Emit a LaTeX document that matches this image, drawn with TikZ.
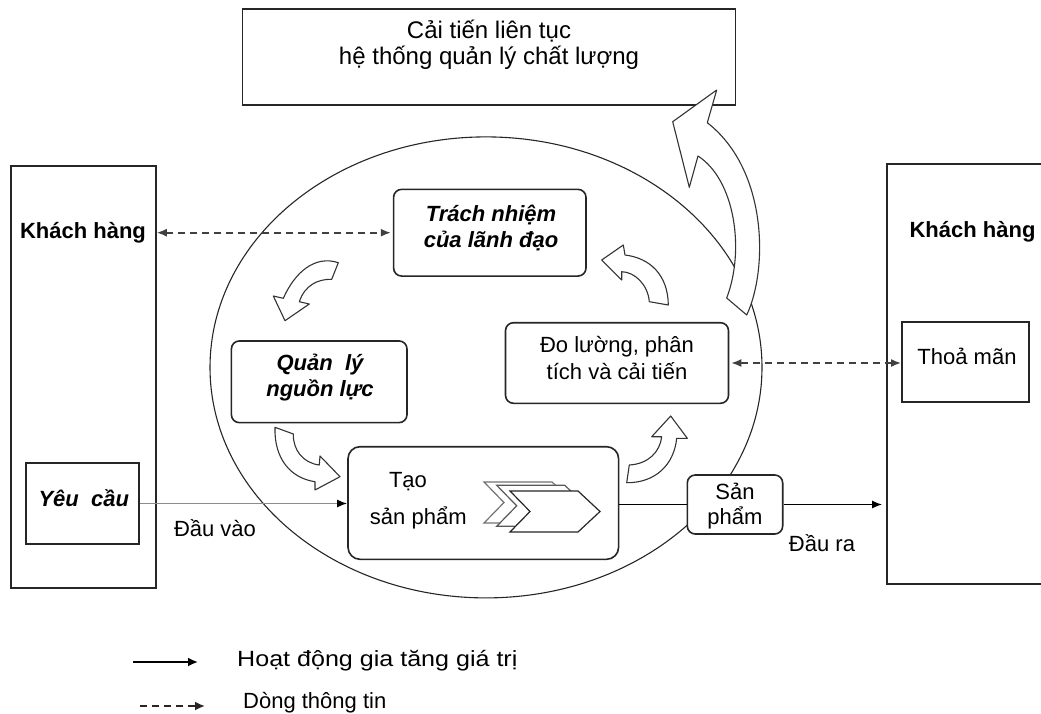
\documentclass[tikz,border=0pt]{standalone}
\usepackage{graphicx}
\usepackage{fontspec}
\setmainfont{Liberation Sans}
\usetikzlibrary{shapes.geometric,arrows.meta,calc}
\begin{document}
\begin{tikzpicture}[x=1pt,y=-1pt,
  box/.style={draw=black!85, line width=1.6pt, fill=white, inner sep=0pt},
  rbox/.style={box, rounded corners=8pt},
  txt/.style={inner sep=0pt, align=center, font=\fontsize{22}{26}\selectfont},
  btxt/.style={inner sep=0pt, align=center, font=\fontsize{22}{26}\selectfont\bfseries},
  bitxt/.style={inner sep=0pt, align=center, font=\fontsize{22}{26}\selectfont\bfseries\itshape},
  blockarrow/.style={draw=black!80, line width=1.1pt, fill=white, line join=round},
  chev/.style={fill=white, line width=1.2pt, line join=miter},
  flow/.style={line width=1.6pt, -{Latex[length=10pt,width=8pt]}},
  info/.style={draw=black!75, line width=1.6pt, dash pattern=on 7pt off 5pt, {Latex[length=10pt,width=8pt]}-{Latex[length=10pt,width=8pt]}},
]
\useasboundingbox (0,0) rectangle (1041,714);

% top box
\node[box, minimum width=493, minimum height=96] (top) at (489,57.3) {};
\node[txt, font=\fontsize{24}{26}\selectfont] (toptxt) at (489,45) {Cải tiến liên tục\\hệ thống quản lý chất lượng};

% ellipse
\node[ellipse, draw=black!85, line width=1.1pt, minimum width=552, minimum height=461, inner sep=0pt] (ell) at (486,367.4) {};

% big curved arrow
\draw[blockarrow] (746.7,315) -- (726.7,298) .. controls (745,250) and (735,180) .. (698,156) -- (689.3,187.3) -- (672.7,121.7) -- (716.7,90) -- (707.3,122.7) .. controls (768,170) and (768,270) .. (746.7,315) -- cycle;

% left customer
\node[box, minimum width=145, minimum height=422] (kl) at (83.5,377) {};
\node[btxt] (kltxt) at (83,233) {Khách hàng};
\node[box, minimum width=113, minimum height=81] (yc) at (82.5,503.5) {};
\node[bitxt] (yctxt) at (83.8,498.3) {Yêu\ \ cầu};

% right customer
\node[box, minimum width=170, minimum height=420] (kr) at (972,374) {};
\node[btxt] (krtxt) at (972.5,232) {Khách hàng};
\node[box, minimum width=127, minimum height=80] (tm) at (965.3,362) {};
\node[txt] (tmtxt) at (967,356) {Thoả mãn};

% process boxes
\node[rbox, minimum width=192.4, minimum height=86.7] (tn) at (489.8,232.7) {};
\node[bitxt] (tntxt) at (491,228) {Trách nhiệm\\của lãnh đạo};
\node[rbox, minimum width=175.6, minimum height=81.7] (ql) at (319.2,381.8) {};
\node[bitxt] (qltxt) at (320,378) {Quản\ \ lý\\nguồn lực};
\node[rbox, minimum width=223, minimum height=80.6] (do) at (617,363) {};
\node[txt, font=\fontsize{22}{27}\selectfont] (dotxt) at (617,358.5) {Đo lường, phân\\tích và cải tiến};
\node[rbox, rounded corners=12pt, minimum width=270.6, minimum height=112.6] (tao) at (483.3,503) {};
\node[txt] (taotxt1) at (408,482) {Tạo};
\node[txt] (taotxt2) at (418.3,518) {sản phẩm};
\node[rbox, minimum width=95.4, minimum height=59] (sp) at (735,504.5) {};
\node[txt, font=\fontsize{22}{25}\selectfont] (sptxt) at (735,505.8) {Sản\\phẩm};

% chevrons
\foreach \dx/\dy/\col in {-26/-9/black!55, -13.3/-5.7/black!65, 0/0/black!85}{
  \draw[chev, draw=\col, shift={(\dx,\dy)}] (510,491) -- (578,491) -- (600,511.5) -- (578,532) -- (510,532) -- (530,511.5) -- cycle;
}

% small curved arrows
\draw[blockarrow] (338.3,262.7) .. controls (315,255) and (295,272) .. (283.3,298.3) -- (273.3,296) -- (285,320.7) -- (309.3,304) -- (299.3,301.7) .. controls (305,285) and (318,279) .. (331.7,279.3) -- cycle;
\draw[blockarrow] (601.7,260) -- (623.3,245) -- (625,255) .. controls (650,258) and (668,275) .. (668.3,305) -- (649.3,301.7) .. controls (648,285) and (635,272) .. (621.7,271.7) -- (621.7,280) -- cycle;
\draw[blockarrow] (275,427.3) -- (293.3,434) .. controls (293,450) and (303,463) .. (319.3,465) -- (320,456) -- (340,476.7) -- (315,490) -- (315,481.7) .. controls (290,478) and (274,458) .. (275,427.3) -- cycle;
\draw[blockarrow] (629.3,465) -- (626.7,482.7) .. controls (655,483) and (674,465) .. (676.7,438.3) -- (687.3,438.3) -- (670.7,416) -- (651.7,436.7) -- (661.7,436.7) .. controls (660,452) and (648,464) .. (629.3,465) -- cycle;

% connectors
\draw[line width=1.6pt, draw=black!45, -{Latex[length=10pt,width=8pt,color=black]}] (yc.east) -- (yc.east -| tao.west);
\node[txt] (dauvao) at (215,528) {Đầu vào};
\draw[line width=1.6pt] (sp.west -| tao.east) -- (sp.west);
\draw[flow, shorten >=4pt] (sp.east) -- (sp.east -| kr.west);
\node[txt] (daura) at (822,543) {Đầu ra};
\draw[info, shorten >=2pt] (kl.east |- tn.west) -- (tn.west);
\draw[info, shorten <=2pt] (do.east) -- (do.east -| tm.west);

% legend
\coordinate (l1a) at (133,662);
\coordinate (l1b) at (198,662);
\draw[line width=1.8pt, -{Latex[length=10pt,width=9pt]}] (l1a) -- (l1b);
\node[txt, anchor=base west] (l1) at (237,666.7) {\scalebox{1.14}[1]{Hoạt động gia tăng giá trị}};
\coordinate (l2a) at (140,706);
\coordinate (l2b) at (205,706);
\draw[line width=1.8pt, draw=black!85, dash pattern=on 7pt off 5pt, -{Latex[length=10pt,width=9pt]}] (l2a) -- (l2b);
\node[txt, anchor=base west] (l2) at (243,708.5) {Dòng thông tin};
\end{tikzpicture}
\end{document}
